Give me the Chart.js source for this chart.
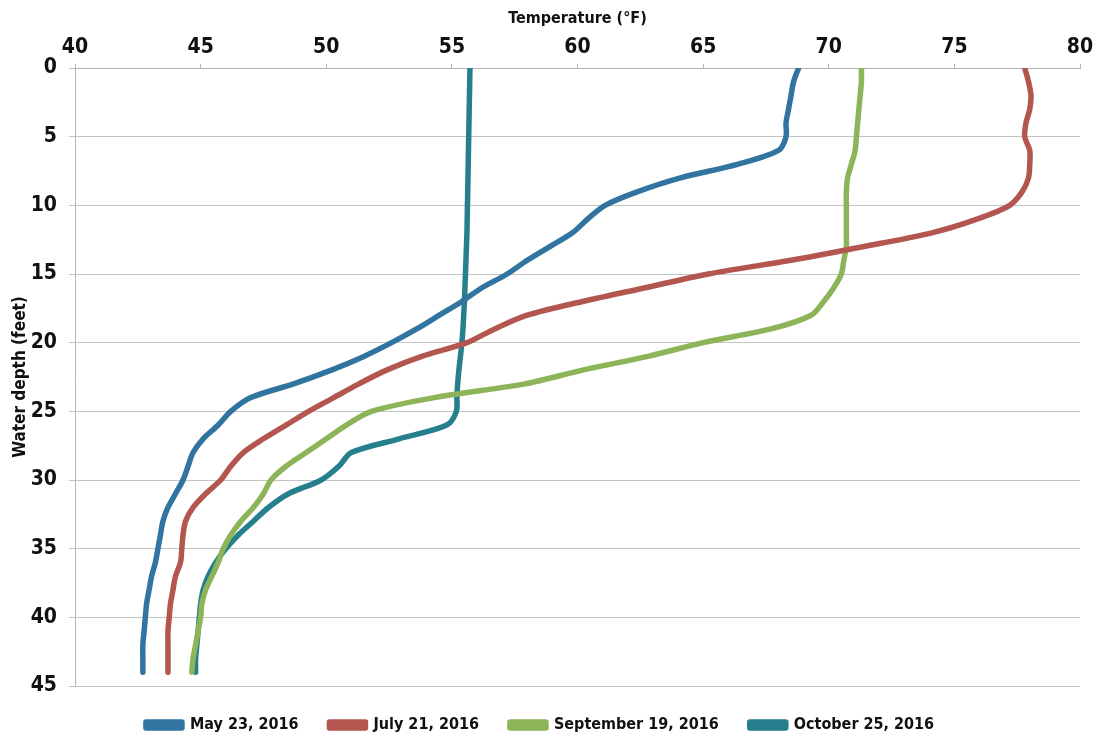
<!DOCTYPE html>
<html>
<head>
<meta charset="utf-8">
<title>Water temperature profiles 2016</title>
<script src="https://cdn.jsdelivr.net/npm/chart.js@4.4.1/dist/chart.umd.min.js"></script>
<style>
    html, body { margin: 0; padding: 0; background: #fff; }
    #wrap { width: 1099px; height: 740px; }
</style>
</head>
<body>
<div id="wrap"><canvas id="profileChart" width="1099" height="740"></canvas></div>
<script>
// Depth of each reading (feet below surface)
const depthFeet = [0, 1, 2, 3, 4, 5, 6, 7, 8, 9, 10, 11, 12, 13, 14, 15, 16, 17, 18, 19, 20, 21,
    22, 23, 24, 25, 26, 27, 28, 29, 30, 31, 32, 33, 34, 35, 36, 37, 38, 39, 40, 41, 42, 43, 44];

// Temperature readings (°F) at each depth
const tempMay23 = [68.8, 68.6, 68.5, 68.4, 68.3, 68.3, 68.0, 66.4, 64.1, 62.4, 61.1, 60.4, 59.8, 58.9, 58.0, 57.2,
    56.2, 55.4, 54.5, 53.6, 52.6, 51.5, 50.2, 48.7, 47.0, 46.2, 45.7, 45.1, 44.7, 44.5, 44.3, 44.0,
    43.7, 43.5, 43.4, 43.3, 43.2, 43.05, 42.95, 42.85, 42.8, 42.75, 42.7, 42.7, 42.7];
const tempJul21 = [77.8, 77.95, 78.05, 78.0, 77.85, 77.8, 78.0, 78.0, 77.95, 77.7, 77.2, 75.9, 74.1, 71.4, 68.5, 65.2,
    62.7, 60.2, 58.0, 56.7, 55.6, 53.8, 52.4, 51.3, 50.3, 49.3, 48.4, 47.5, 46.7, 46.2, 45.8, 45.2,
    44.7, 44.4, 44.3, 44.25, 44.2, 44.0, 43.9, 43.8, 43.75, 43.7, 43.7, 43.7, 43.7];
const tempSep19 = [71.3, 71.3, 71.25, 71.2, 71.15, 71.1, 71.05, 70.9, 70.75, 70.7, 70.7, 70.7, 70.7, 70.7, 70.6, 70.5,
    70.2, 69.8, 69.3, 67.7, 65.0, 62.8, 60.2, 57.9, 54.3, 51.8, 50.8, 50.0, 49.2, 48.4, 47.8, 47.5,
    47.1, 46.6, 46.2, 45.9, 45.7, 45.45, 45.2, 45.05, 45.0, 44.9, 44.8, 44.7, 44.65];
const tempOct25 = [55.72, 55.71, 55.70, 55.69, 55.68, 55.67, 55.66, 55.65, 55.64, 55.63, 55.62, 55.61, 55.60, 55.58, 55.56, 55.54,
    55.52, 55.50, 55.47, 55.44, 55.40, 55.34, 55.28, 55.23, 55.20, 55.18, 54.8, 52.9, 51.0, 50.5, 49.8, 48.5,
    47.7, 47.1, 46.5, 46.0, 45.6, 45.3, 45.1, 45.0, 44.95, 44.9, 44.85, 44.8, 44.8];

const seriesLabels = ['May 23, 2016', 'July 21, 2016', 'September 19, 2016', 'October 25, 2016'];
const seriesTemps = [tempMay23, tempJul21, tempSep19, tempOct25];
const seriesColors = ['#30749f', '#b3564f', '#8db458', '#267f8c'];

// Temperature axis ticks (°F) and depth axis ticks (feet)
const tempTicks = [40, 45, 50, 55, 60, 65, 70, 75, 80];
const depthTicks = [0, 5, 10, 15, 20, 25, 30, 35, 40, 45];

const FONT = "'Liberation Sans Narrow', 'DejaVu Sans Condensed', 'Liberation Sans', sans-serif";
const AXIS_GRAY = '#b4b4b4';

function buildDatasets() {
    return seriesTemps.map((temps, i) => ({
        label: seriesLabels[i],
        data: temps.map((t, j) => ({ x: t, y: depthFeet[j] })),
        borderColor: seriesColors[i],
        backgroundColor: seriesColors[i],
        borderWidth: 5.5,
        borderCapStyle: 'round',
        borderJoinStyle: 'round',
        pointRadius: 0,
        pointHoverRadius: 0,
        showLine: true,
        tension: 0.3
    }));
}

const ctx = document.getElementById('profileChart').getContext('2d');
new Chart(ctx, {
    type: 'scatter',
    data: { datasets: buildDatasets() },
    options: {
        responsive: false,
        animation: false,
        // negative bottom padding pulls the legend row lower under the plot
        layout: { padding: { left: 0, right: 19, top: 0, bottom: -3 } },
        plugins: {
            tooltip: { enabled: false },
            legend: {
                position: 'bottom',
                labels: {
                    boxWidth: 36,
                    boxHeight: 6,
                    padding: 31,
                    color: '#111',
                    font: { family: FONT, size: 16, weight: 'bold' }
                }
            }
        },
        scales: {
            x: {
                type: 'linear',
                position: 'top',
                min: 40,
                max: 80,
                afterBuildTicks: (scale) => { scale.ticks = tempTicks.map(v => ({ value: v })); },
                afterFit: (scale) => { scale.height = 68; },
                ticks: {
                    padding: 4,
                    color: '#111',
                    font: { family: FONT, size: 21, weight: 'bold' }
                },
                grid: {
                    drawOnChartArea: false,
                    drawTicks: true,
                    tickLength: 4,
                    color: AXIS_GRAY
                },
                border: { color: AXIS_GRAY, width: 1 },
                title: {
                    display: true,
                    text: 'Temperature (°F)',
                    color: '#111',
                    padding: { top: 9, bottom: 0 },
                    font: { family: FONT, size: 16, weight: 'bold' }
                }
            },
            y: {
                type: 'linear',
                reverse: true,
                min: 0,
                max: 45,
                afterBuildTicks: (scale) => { scale.ticks = depthTicks.map(v => ({ value: v })); },
                afterFit: (scale) => { scale.width = 75; },
                ticks: {
                    padding: 12,
                    color: '#111',
                    font: { family: FONT, size: 21, weight: 'bold' }
                },
                grid: {
                    color: '#c4c4c4',
                    lineWidth: 1,
                    tickLength: 6
                },
                border: { color: AXIS_GRAY, width: 1 },
                title: {
                    display: true,
                    text: 'Water depth (feet)',
                    color: '#111',
                    padding: { top: 10, bottom: 0 },
                    font: { family: FONT, size: 17, weight: 'bold' }
                }
            }
        }
    }
});
</script>
</body>
</html>
